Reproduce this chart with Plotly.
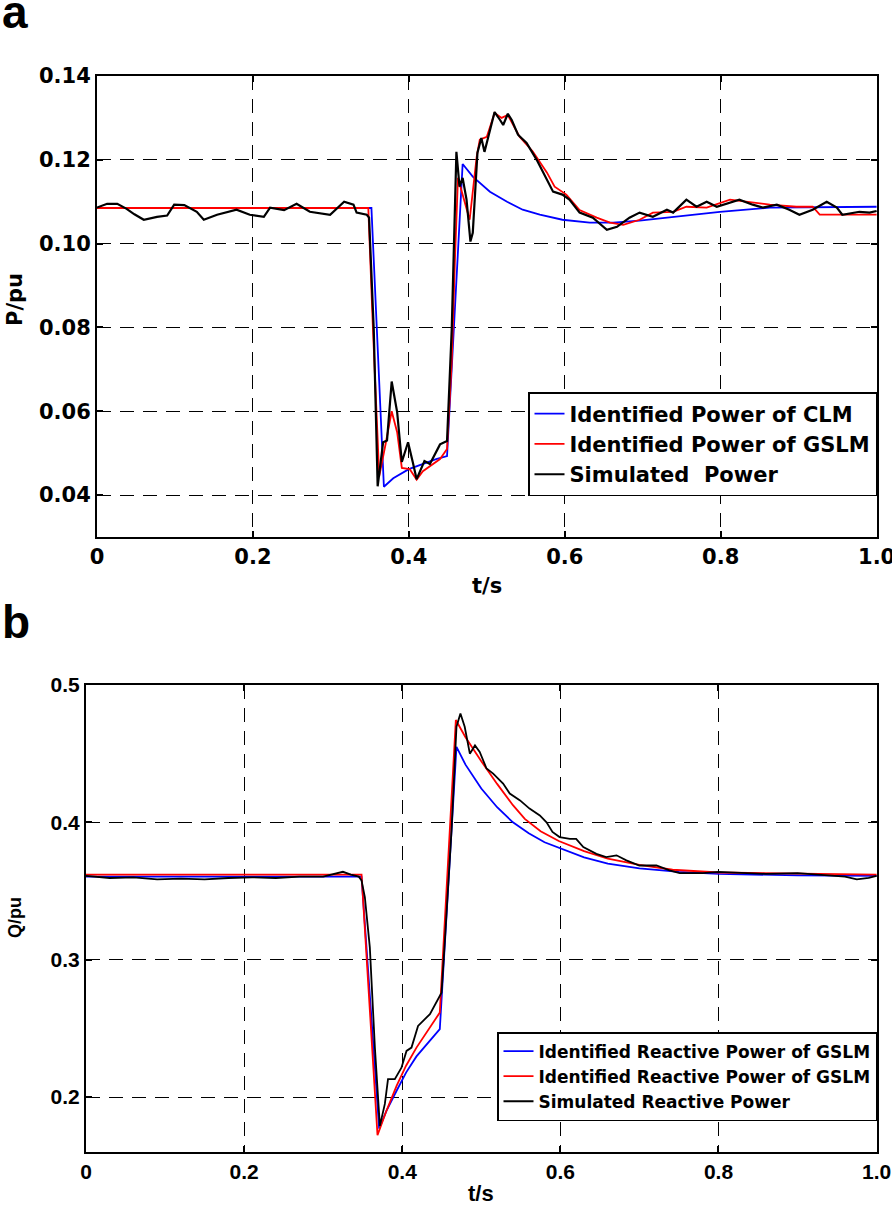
import plotly.graph_objects as go

# ---------------- Panel a : active power ----------------
pa_clm_t = [0, 0.352, 0.368, 0.380, 0.400, 0.420, 0.435, 0.449, 0.469, 0.482, 0.504, 0.526,
            0.546, 0.568, 0.597, 0.632, 0.662, 0.696, 0.760, 0.799, 0.863, 0.936, 1.0]
pa_clm_v = [0.1085, 0.1085, 0.0420, 0.0440, 0.0462, 0.0476, 0.0486, 0.0493, 0.1190, 0.1160,
            0.1124, 0.1100, 0.1081, 0.1069, 0.1057, 0.1050, 0.1050, 0.1055, 0.1067, 0.1076,
            0.1086, 0.1088, 0.1088]

pa_gslm_t = [0, 0.348, 0.354, 0.362, 0.370, 0.378, 0.385, 0.391, 0.401, 0.410, 0.418, 0.431,
             0.440, 0.449, 0.455, 0.459, 0.463, 0.470, 0.478, 0.487, 0.491, 0.500, 0.510,
             0.519, 0.527, 0.542, 0.559, 0.577, 0.587, 0.602, 0.619, 0.641, 0.658, 0.675,
             0.696, 0.713, 0.739, 0.756, 0.782, 0.812, 0.833, 0.863, 0.897, 0.918, 0.927,
             0.969, 1.0]
pa_gslm_v = [0.1085, 0.1085, 0.0795, 0.0445, 0.0520, 0.0600, 0.0550, 0.0465, 0.0462, 0.0437,
             0.0457, 0.0474, 0.0486, 0.0510, 0.0717, 0.0955, 0.1157, 0.1110, 0.1057, 0.1207,
             0.1248, 0.1255, 0.1312, 0.1300, 0.1307, 0.1255, 0.1220, 0.1170, 0.1136, 0.1117,
             0.1080, 0.1062, 0.1050, 0.1045, 0.1057, 0.1074, 0.1076, 0.1088, 0.1086, 0.1105,
             0.1100, 0.1093, 0.1088, 0.1088, 0.1069, 0.1069, 0.1069]

pa_sim_t = [0, 0.013, 0.026, 0.038, 0.048, 0.060, 0.077, 0.090, 0.099, 0.112, 0.128, 0.137,
            0.154, 0.165, 0.179, 0.196, 0.214, 0.222, 0.240, 0.256, 0.273, 0.299, 0.317,
            0.329, 0.333, 0.346, 0.349, 0.355, 0.360, 0.367, 0.372, 0.378, 0.385, 0.391,
            0.399, 0.405, 0.410, 0.420, 0.427, 0.440, 0.449, 0.455, 0.461, 0.465, 0.469,
            0.474, 0.479, 0.482, 0.488, 0.493, 0.497, 0.501, 0.510, 0.517, 0.521, 0.527,
            0.532, 0.540, 0.551, 0.564, 0.577, 0.585, 0.597, 0.606, 0.619, 0.636, 0.654,
            0.667, 0.683, 0.696, 0.713, 0.731, 0.739, 0.756, 0.769, 0.782, 0.795, 0.812,
            0.824, 0.841, 0.854, 0.872, 0.888, 0.901, 0.918, 0.936, 0.949, 0.956, 0.978,
            0.991, 1.0]
pa_sim_v = [0.1086, 0.1095, 0.1095, 0.1083, 0.1070, 0.1057, 0.1064, 0.1067, 0.1093, 0.1092,
            0.1076, 0.1057, 0.1069, 0.1075, 0.1081, 0.1069, 0.1064, 0.1086, 0.1080, 0.1095,
            0.1076, 0.1069, 0.1100, 0.1093, 0.1074, 0.1069, 0.1062, 0.0795, 0.0421, 0.0526,
            0.0530, 0.0671, 0.0598, 0.0479, 0.0526, 0.0479, 0.0438, 0.0481, 0.0474, 0.0521,
            0.0529, 0.0795, 0.1219, 0.1136, 0.1157, 0.1105, 0.1005, 0.1026, 0.1217, 0.1252,
            0.1219, 0.1248, 0.1314, 0.1295, 0.1283, 0.1310, 0.1295, 0.1260, 0.1240, 0.1200,
            0.1152, 0.1124, 0.1117, 0.1105, 0.1074, 0.1062, 0.1033, 0.1040, 0.1062, 0.1074,
            0.1064, 0.1081, 0.1074, 0.1105, 0.1088, 0.1100, 0.1088, 0.1098, 0.1105, 0.1093,
            0.1086, 0.1093, 0.1081, 0.1069, 0.1081, 0.1100, 0.1086, 0.1069, 0.1076, 0.1074,
            0.1078]

# ---------------- Panel b : reactive power ----------------
pb_blue_t = [0, 0.3485, 0.3708, 0.380, 0.3927, 0.405, 0.418, 0.430, 0.4475, 0.4686, 0.480,
             0.500, 0.520, 0.540, 0.560, 0.580, 0.600, 0.630, 0.660, 0.700, 0.750, 0.800,
             0.900, 1.0]
pb_blue_v = [0.3605, 0.3605, 0.1770, 0.1900, 0.2044, 0.2180, 0.2296, 0.2380, 0.2494, 0.4550,
             0.4420, 0.4246, 0.4110, 0.4000, 0.3920, 0.3855, 0.3810, 0.3745, 0.3700, 0.3665,
             0.3640, 0.3625, 0.3614, 0.3610]

pb_red_t = [0, 0.3485, 0.3687, 0.380, 0.3927, 0.405, 0.418, 0.430, 0.4475, 0.4678, 0.480,
            0.500, 0.520, 0.540, 0.555, 0.575, 0.598, 0.630, 0.660, 0.700, 0.742, 0.800,
            0.900, 1.0]
pb_red_v = [0.3620, 0.3620, 0.1723, 0.1900, 0.2080, 0.2230, 0.2360, 0.2460, 0.2615, 0.4745,
            0.4620, 0.4445, 0.4280, 0.4125, 0.4025, 0.3935, 0.3864, 0.3790, 0.3735, 0.3690,
            0.3655, 0.3635, 0.3625, 0.3620]

pb_sim_t = [0, 0.030, 0.060, 0.090, 0.120, 0.150, 0.180, 0.210, 0.240, 0.270, 0.300, 0.315,
            0.325, 0.335, 0.345, 0.3485, 0.3527, 0.359, 0.3654, 0.3717, 0.378, 0.382, 0.3906,
            0.399, 0.4054, 0.4117, 0.420, 0.435, 0.4434, 0.4497, 0.4539, 0.4623, 0.4686,
            0.4736, 0.479, 0.4855, 0.492, 0.498, 0.5066, 0.515, 0.5276, 0.536, 0.549, 0.561,
            0.574, 0.5825, 0.590, 0.599, 0.612, 0.620, 0.629, 0.6456, 0.658, 0.671, 0.6835,
            0.700, 0.7215, 0.738, 0.751, 0.780, 0.800, 0.830, 0.860, 0.900, 0.930, 0.960,
            0.975, 0.990, 1.0]
pb_sim_v = [0.3610, 0.3595, 0.3600, 0.3585, 0.3590, 0.3585, 0.3595, 0.3600, 0.3595, 0.3605,
            0.3605, 0.3625, 0.3640, 0.3620, 0.3605, 0.3577, 0.3455, 0.3090, 0.2360, 0.1790,
            0.1950, 0.2130, 0.2130, 0.2214, 0.2336, 0.2360, 0.2518, 0.2604, 0.2700, 0.2760,
            0.3139, 0.3940, 0.4696, 0.4793, 0.4696, 0.4500, 0.4560, 0.4513, 0.4392, 0.4355,
            0.4282, 0.4210, 0.4160, 0.4100, 0.4050, 0.4000, 0.3930, 0.3893, 0.3880, 0.3880,
            0.3820, 0.3771, 0.3747, 0.3760, 0.3723, 0.3686, 0.3686, 0.3650, 0.3630, 0.3630,
            0.3640, 0.3630, 0.3625, 0.3630, 0.3615, 0.3605, 0.3585, 0.3595, 0.3610]

# ---------------- Axis ticks / labels ----------------
x_tickvals = [0, 0.2, 0.4, 0.6, 0.8, 1.0]
x_ticktext = ["0", "0.2", "0.4", "0.6", "0.8", "1.0"]
pa_y_tickvals = [0.04, 0.06, 0.08, 0.10, 0.12, 0.14]
pa_y_ticktext = ["0.04", "0.06", "0.08", "0.10", "0.12", "0.14"]
pb_y_tickvals = [0.2, 0.3, 0.4, 0.5]
pb_y_ticktext = ["0.2", "0.3", "0.4", "0.5"]

pa_names = ["Identified Power of CLM", "Identified Power of GSLM", "Simulated\u00a0 Power"]
pb_names = ["Identified Reactive Power of GSLM", "Identified Reactive Power of GSLM",
            "Simulated Reactive Power"]

W, H = 892, 1209
BLUE, RED, BLACK = "#0000FF", "#FF0000", "#000000"
FONT = "Liberation Sans, Arial, Helvetica, sans-serif"
WIDE = "DejaVu Sans, Liberation Sans, sans-serif"

fig = go.Figure()
fig.add_trace(go.Scatter(x=pa_clm_t, y=pa_clm_v, mode="lines", name=pa_names[0],
                         line=dict(color=BLUE, width=1.8), xaxis="x", yaxis="y", legend="legend"))
fig.add_trace(go.Scatter(x=pa_gslm_t, y=pa_gslm_v, mode="lines", name=pa_names[1],
                         line=dict(color=RED, width=1.8), xaxis="x", yaxis="y", legend="legend"))
fig.add_trace(go.Scatter(x=pa_sim_t, y=pa_sim_v, mode="lines", name=pa_names[2],
                         line=dict(color=BLACK, width=2.2), xaxis="x", yaxis="y", legend="legend"))

fig.add_trace(go.Scatter(x=pb_blue_t, y=pb_blue_v, mode="lines", name=pb_names[0],
                         line=dict(color=BLUE, width=1.8), xaxis="x2", yaxis="y2", legend="legend2"))
fig.add_trace(go.Scatter(x=pb_red_t, y=pb_red_v, mode="lines", name=pb_names[1],
                         line=dict(color=RED, width=1.8), xaxis="x2", yaxis="y2", legend="legend2"))
fig.add_trace(go.Scatter(x=pb_sim_t, y=pb_sim_v, mode="lines", name=pb_names[2],
                         line=dict(color=BLACK, width=1.8), xaxis="x2", yaxis="y2", legend="legend2"))


def px_x(p):
    return p / W


def px_y(p):
    return 1 - p / H


common = dict(showline=True, linecolor="black", linewidth=2, mirror="ticks",
              ticks="inside", ticklen=6, tickwidth=1.5, tickcolor="black",
              showgrid=True, gridcolor="black", gridwidth=1.4, griddash="14px,9px",
              zeroline=False, tickmode="array", automargin=False, ticklabeloverflow="allow")

tf_a = dict(family=WIDE, size=21, color="black", weight="bold")
tf_b = dict(family=FONT, size=21, color="black", weight="bold")

fig.update_layout(
    width=W, height=H,
    margin=dict(l=0, r=0, t=0, b=0, autoexpand=False),
    paper_bgcolor="white", plot_bgcolor="white",
    font=dict(family=FONT, color="black"),
    xaxis=dict(domain=[px_x(97), px_x(877)], range=[0, 1.0005], anchor="y",
               tickvals=x_tickvals, ticktext=x_ticktext, tickfont=tf_a, **common),
    yaxis=dict(domain=[px_y(537), px_y(76)], range=[0.03, 0.14], anchor="x",
               tickvals=pa_y_tickvals, ticktext=pa_y_ticktext, tickfont=tf_a, **common),
    xaxis2=dict(domain=[px_x(86), px_x(877)], range=[0, 1.0005], anchor="y2",
                tickvals=x_tickvals, ticktext=x_ticktext, tickfont=tf_b, **common),
    yaxis2=dict(domain=[px_y(1152), px_y(685)], range=[0.16, 0.5], anchor="x2",
                tickvals=pb_y_tickvals, ticktext=pb_y_ticktext, tickfont=tf_b, **common),
    legend=dict(x=px_x(877), y=px_y(496), xanchor="right", yanchor="bottom",
                bgcolor="white", bordercolor="black", borderwidth=1.5,
                font=dict(family=WIDE, size=21, color="black", weight="bold"),
                itemwidth=30, tracegroupgap=0),
    legend2=dict(x=px_x(877), y=px_y(1121), xanchor="right", yanchor="bottom",
                 bgcolor="white", bordercolor="black", borderwidth=1.5,
                 font=dict(family=WIDE, size=17, color="black", weight="bold"),
                 itemwidth=30, tracegroupgap=0),
    showlegend=True,
)

annots = [
    dict(text="a", x=px_x(0), y=px_y(12), xanchor="left", yanchor="middle",
         font=dict(size=46, weight="bold")),
    dict(text="b", x=px_x(0), y=px_y(622), xanchor="left", yanchor="middle",
         font=dict(size=46, weight="bold")),
    dict(text="t/s", x=px_x(487), y=px_y(586), xanchor="center", yanchor="middle",
         font=dict(family=WIDE, size=21, weight="bold")),
    dict(text="t/s", x=px_x(481), y=px_y(1193), xanchor="center", yanchor="middle",
         font=dict(size=22, weight="bold")),
    dict(text="P/pu", x=px_x(15), y=px_y(300), xanchor="center", yanchor="middle",
         textangle=-90, font=dict(family=WIDE, size=21, weight="bold")),
    dict(text="Q/pu", x=px_x(15), y=px_y(918), xanchor="center", yanchor="middle",
         textangle=-90, font=dict(size=18, weight="bold")),
]
for a in annots:
    a.update(xref="paper", yref="paper", showarrow=False)
    a["font"].setdefault("family", FONT)
    a["font"].setdefault("color", "black")
fig.update_layout(annotations=annots)

fig.write_html("out.html",
               config={"displayModeBar": False},
               post_script="document.body.style.margin='0';"
                           "document.body.style.padding='0';"
                           "document.body.style.overflow='hidden';")
